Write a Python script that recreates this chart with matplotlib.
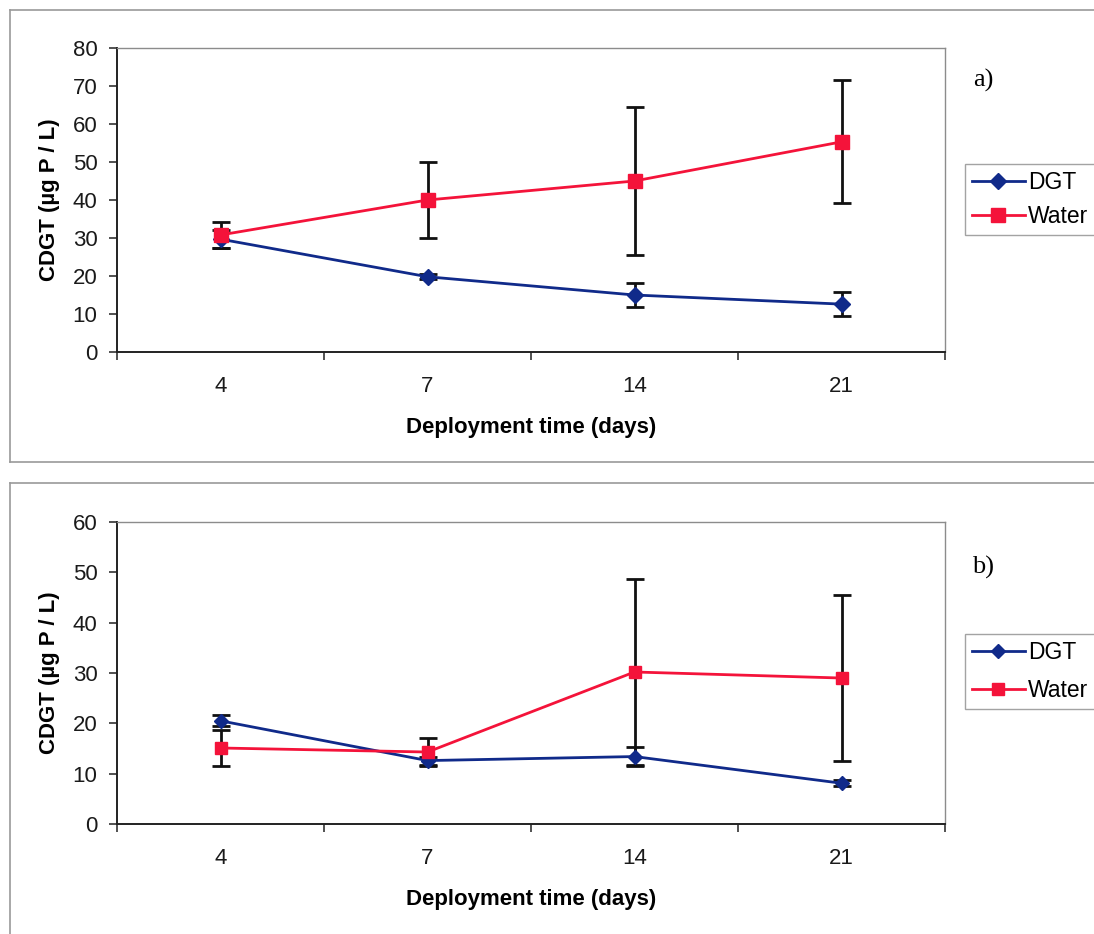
import numpy as np
import matplotlib
matplotlib.use("Agg")
from matplotlib import pyplot as plt
from matplotlib.lines import Line2D

plt.rcParams['font.family'] = ['Liberation Sans', 'DejaVu Sans']

days = ["4", "7", "14", "21"]

# panel a
dgt_a = [29.7, 19.8, 15.0, 12.6]
dgt_a_err = [2.4, 0.7, 3.1, 3.1]
water_a = [30.8, 40.0, 45.0, 55.3]
water_a_err = [3.5, 9.9, 19.6, 16.2]

# panel b
dgt_b = [20.5, 12.6, 13.4, 8.1]
dgt_b_err = [1.1, 0.8, 1.9, 0.6]
water_b = [15.1, 14.3, 30.2, 29.0]
water_b_err = [3.6, 2.7, 18.5, 16.4]

W, H = 1094, 934
fig = plt.figure(figsize=(W / 100, H / 100), dpi=100)

navy = "#102a8a"
red = "#f4133a"


def fx(px):
    return px / W


def fy(py):
    return 1 - py / H


# outer chart-area frames (Excel style)
frame = dict(color="#9a9a9a", lw=1.2, transform=fig.transFigure)
fig.add_artist(Line2D([fx(10), 1.01], [fy(10), fy(10)], **frame))
fig.add_artist(Line2D([fx(10), fx(10)], [fy(10), fy(462)], **frame))
fig.add_artist(Line2D([fx(10), 1.01], [fy(462), fy(462)], **frame))
fig.add_artist(Line2D([fx(10), 1.01], [fy(483), fy(483)], **frame))
fig.add_artist(Line2D([fx(10), fx(10)], [fy(483), -0.01], **frame))


def panel(top, bottom, dgt, dgt_err, water, water_err, ymax, tag, leg_top, tag_y, msize, spacing):
    ax = fig.add_axes([fx(117), fy(bottom), fx(945) - fx(117), fy(top) - fy(bottom)])
    x = np.arange(len(days))
    ax.errorbar(x, dgt, yerr=dgt_err, fmt="none", ecolor="#111111", elinewidth=2,
                capsize=6.5, capthick=2, zorder=2)
    ax.errorbar(x, water, yerr=water_err, fmt="none", ecolor="#111111", elinewidth=2,
                capsize=6.5, capthick=2, zorder=2)
    ax.plot(x, dgt, color=navy, lw=2, marker="D", markersize=msize - 1.5, label="DGT", zorder=3)
    ax.plot(x, water, color=red, lw=2, marker="s", markersize=msize, label="Water", zorder=3)

    ax.set_xlim(-0.5, 3.5)
    ax.set_ylim(0, ymax)
    ax.set_yticks(np.arange(0, ymax + 1, 10))
    ax.set_xticks(np.arange(-0.5, 3.6, 1))
    ax.set_xticklabels([])
    ax.set_xticks(x, minor=True)
    ax.set_xticklabels(days, minor=True)
    ax.tick_params(axis="x", which="major", direction="out", length=6, width=1.2, color="#333333")
    ax.tick_params(axis="x", which="minor", length=0, pad=17, labelsize=16, labelcolor="#1a1a1a")
    ax.tick_params(axis="y", direction="out", length=6, width=1.2, color="#333333", pad=8,
                   labelsize=16, labelcolor="#1a1a1a")

    for s in ("top", "right"):
        ax.spines[s].set_color("#8c8c8c")
        ax.spines[s].set_linewidth(1.0)
    for s in ("left", "bottom"):
        ax.spines[s].set_color("#222222")
        ax.spines[s].set_linewidth(1.4)

    ax.set_xlabel("Deployment time (days)", fontsize=16, fontweight="bold", labelpad=15)
    ax.set_ylabel("CDGT (µg P / L)", fontsize=16, fontweight="bold", labelpad=9)

    leg = ax.legend(loc="upper left", bbox_to_anchor=(fx(965), fy(leg_top)),
                    bbox_transform=fig.transFigure, fontsize=16.5, frameon=True,
                    fancybox=False, handlelength=2.3, handletextpad=0.15,
                    borderpad=0.3, labelspacing=spacing, borderaxespad=0)
    leg.get_frame().set_edgecolor("#8c8c8c")
    leg.get_frame().set_linewidth(1.0)

    fig.text(fx(983), fy(tag_y), tag, family="Liberation Serif", fontsize=19,
             ha="center", va="center")
    return ax


panel(48, 352, dgt_a, dgt_a_err, water_a, water_a_err, 80, "a)", 164, 80, 10, 0.5)
panel(522, 824, dgt_b, dgt_b_err, water_b, water_b_err, 60, "b)", 634, 567, 8.5, 0.65)

fig.savefig("out.png", dpi=100)
